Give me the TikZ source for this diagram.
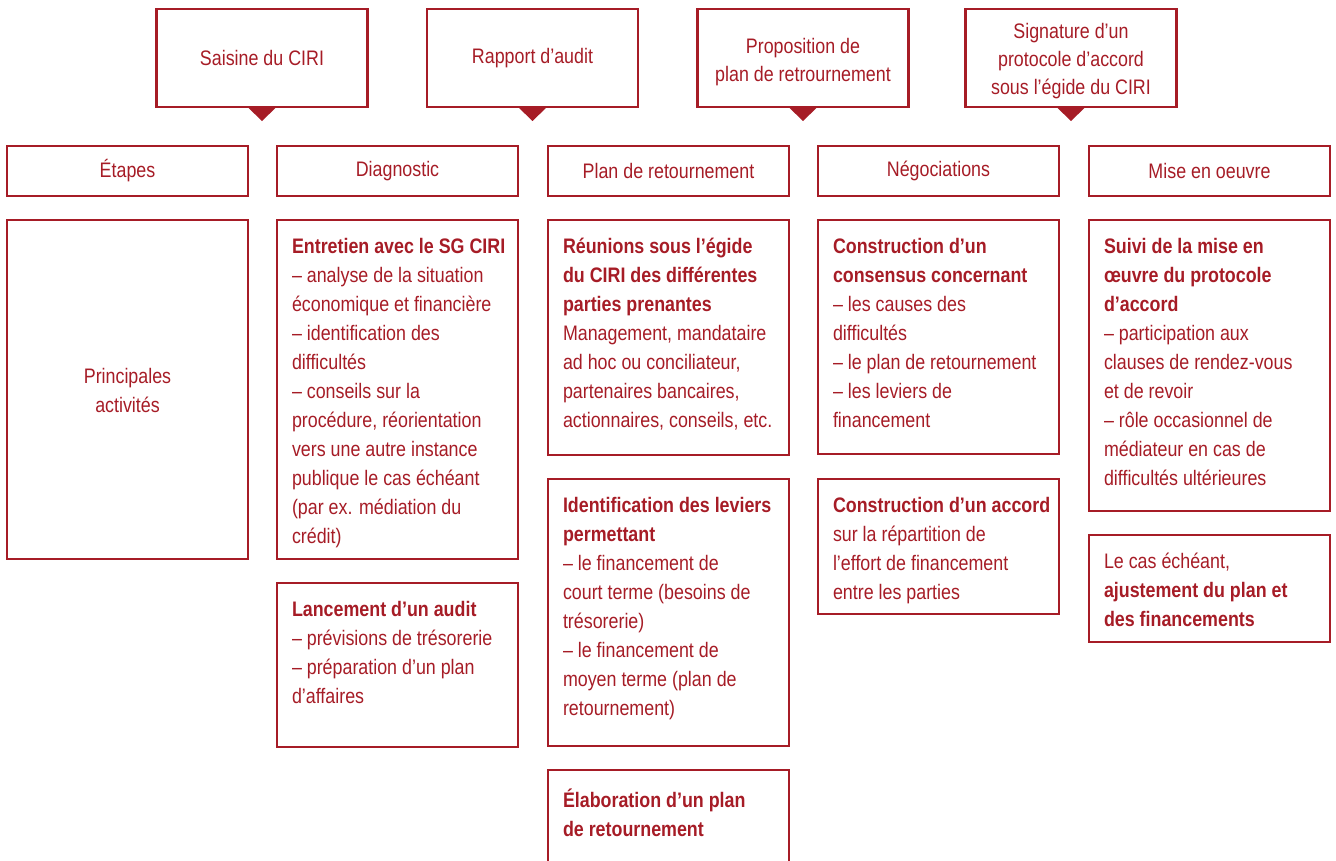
\documentclass[tikz,border=0pt]{standalone}
\usepackage{fontspec}
\setmainfont{Liberation Sans}[FakeStretch=0.85]
\usepackage{tikz}
\definecolor{ciri}{RGB}{166,28,38}

\begin{document}
\begin{tikzpicture}[x=1pt, y=-1pt,
    every node/.style={text=ciri, font=\fontsize{21}{29}\selectfont, inner sep=0pt, outer sep=0pt},
    etape/.style={draw=ciri, line width=2.8pt, minimum width=211pt, minimum height=98pt, align=center, font=\fontsize{21}{28}\selectfont},
    titre/.style={draw=ciri, line width=1.2pt, minimum width=241pt, minimum height=50pt},
    bloc/.style={draw=ciri, line width=1.2pt, anchor=north west, minimum width=241pt},
    texte/.style={anchor=north west, align=left, execute at begin node={\rule{0pt}{20pt}}}]
    \useasboundingbox (0,0) rectangle (1336,860);

    % etapes du haut
    \node[etape] (saisine) at (262,58) {Saisine du CIRI};
    \node[etape] (rapport) at (532.5,58) {Rapport d’audit};
    \node[etape] (proposition) at (803,58) {};
    \node[align=center, font=\fontsize{21}{28}\selectfont] (propositiont) at (803,62.5) {Proposition de\\plan de retrournement};
    \node[etape] (signature) at (1071,58) {};
    \node[align=center, font=\fontsize{21}{28}\selectfont] (signaturet) at (1071,61.5) {Signature d’un\\protocole d’accord\\sous l’égide du CIRI};

    \fill[ciri] (saisine.south) ++(-14.5,0) -- ++(29,0) -- ++(-14.5,14) -- cycle;
    \fill[ciri] (rapport.south) ++(-14.5,0) -- ++(29,0) -- ++(-14.5,14) -- cycle;
    \fill[ciri] (proposition.south) ++(-14.5,0) -- ++(29,0) -- ++(-14.5,14) -- cycle;
    \fill[ciri] (signature.south) ++(-14.5,0) -- ++(29,0) -- ++(-14.5,14) -- cycle;

    % titres des colonnes
    \node[titre] (etapes) at (127.5,171) {Étapes};
    \node[titre] (diagnostic) at (397.5,171) {Diagnostic};
    \node[titre] (plan) at (668.5,171) {Plan de retournement};
    \node[titre] (nego) at (938.5,171) {Négociations};
    \node[titre] (oeuvre) at (1209.5,171) {Mise en oeuvre};

    % colonne etapes
    \node[bloc, minimum height=339pt] (activites) at (7,220) {};
    \node[align=center] (activitest) at ([yshift=-1pt]activites.center) {Principales\\activités};

    % diagnostic
    \node[bloc, minimum height=339pt] (entretien) at (277,220) {};
    \node[texte] (entretient) at ([shift={(15,18.5)}]entretien.north west)
        {\textbf{Entretien avec le SG CIRI}\\– analyse de la situation\\économique et financière\\– identification des\\difficultés\\– conseils sur la\\procédure, réorientation\\vers une autre instance\\publique le cas échéant\\(par ex. médiation du\\crédit)};
    \node[bloc, minimum height=164pt] (audit) at (277,583) {};
    \node[texte] (auditt) at ([shift={(15,18.5)}]audit.north west)
        {\textbf{Lancement d’un audit}\\– prévisions de trésorerie\\– préparation d’un plan\\d’affaires};

    % plan de retournement
    \node[bloc, minimum height=235pt] (reunions) at (548,220) {};
    \node[texte] (reunionst) at ([shift={(15,18.5)}]reunions.north west)
        {\textbf{Réunions sous l’égide}\\\textbf{du CIRI des différentes}\\\textbf{parties prenantes}\\Management, mandataire\\ad hoc ou conciliateur,\\partenaires bancaires,\\actionnaires, conseils, etc.};
    \node[bloc, minimum height=267pt] (leviers) at (548,479) {};
    \node[texte] (levierst) at ([shift={(15,18.5)}]leviers.north west)
        {\textbf{Identification des leviers}\\\textbf{permettant}\\– le financement de\\court terme (besoins de\\trésorerie)\\– le financement de\\moyen terme (plan de\\retournement)};
    \node[anchor=north west, minimum width=241pt, minimum height=92pt] (elaboration) at (548,770) {};
    \draw[ciri, line width=1.2pt] (elaboration.south west) -- (elaboration.north west) -- (elaboration.north east) -- (elaboration.south east);
    \node[texte] (elaborationt) at ([shift={(15,18.5)}]elaboration.north west)
        {\textbf{Élaboration d’un plan}\\\textbf{de retournement}};

    % negociations
    \node[bloc, minimum height=234pt] (consensus) at (818,220) {};
    \node[texte] (consensust) at ([shift={(15,18.5)}]consensus.north west)
        {\textbf{Construction d’un}\\\textbf{consensus concernant}\\– les causes des\\difficultés\\– le plan de retournement\\– les leviers de\\financement};
    \node[bloc, minimum height=135pt] (accord) at (818,479) {};
    \node[texte] (accordt) at ([shift={(15,18.5)}]accord.north west)
        {\textbf{Construction d’un accord}\\sur la répartition de\\l’effort de financement\\entre les parties};

    % mise en oeuvre
    \node[bloc, minimum height=291pt] (suivi) at (1089,220) {};
    \node[texte] (suivit) at ([shift={(15,18.5)}]suivi.north west)
        {\textbf{Suivi de la mise en}\\\textbf{œuvre du protocole}\\\textbf{d’accord}\\– participation aux\\clauses de rendez-vous\\et de revoir\\– rôle occasionnel de\\médiateur en cas de\\difficultés ultérieures};
    \node[bloc, minimum height=107pt] (ajustement) at (1089,535) {};
    \node[texte] (ajustementt) at ([shift={(15,18.5)}]ajustement.north west)
        {Le cas échéant,\\\textbf{ajustement du plan et}\\\textbf{des financements}};
\end{tikzpicture}
\end{document}
